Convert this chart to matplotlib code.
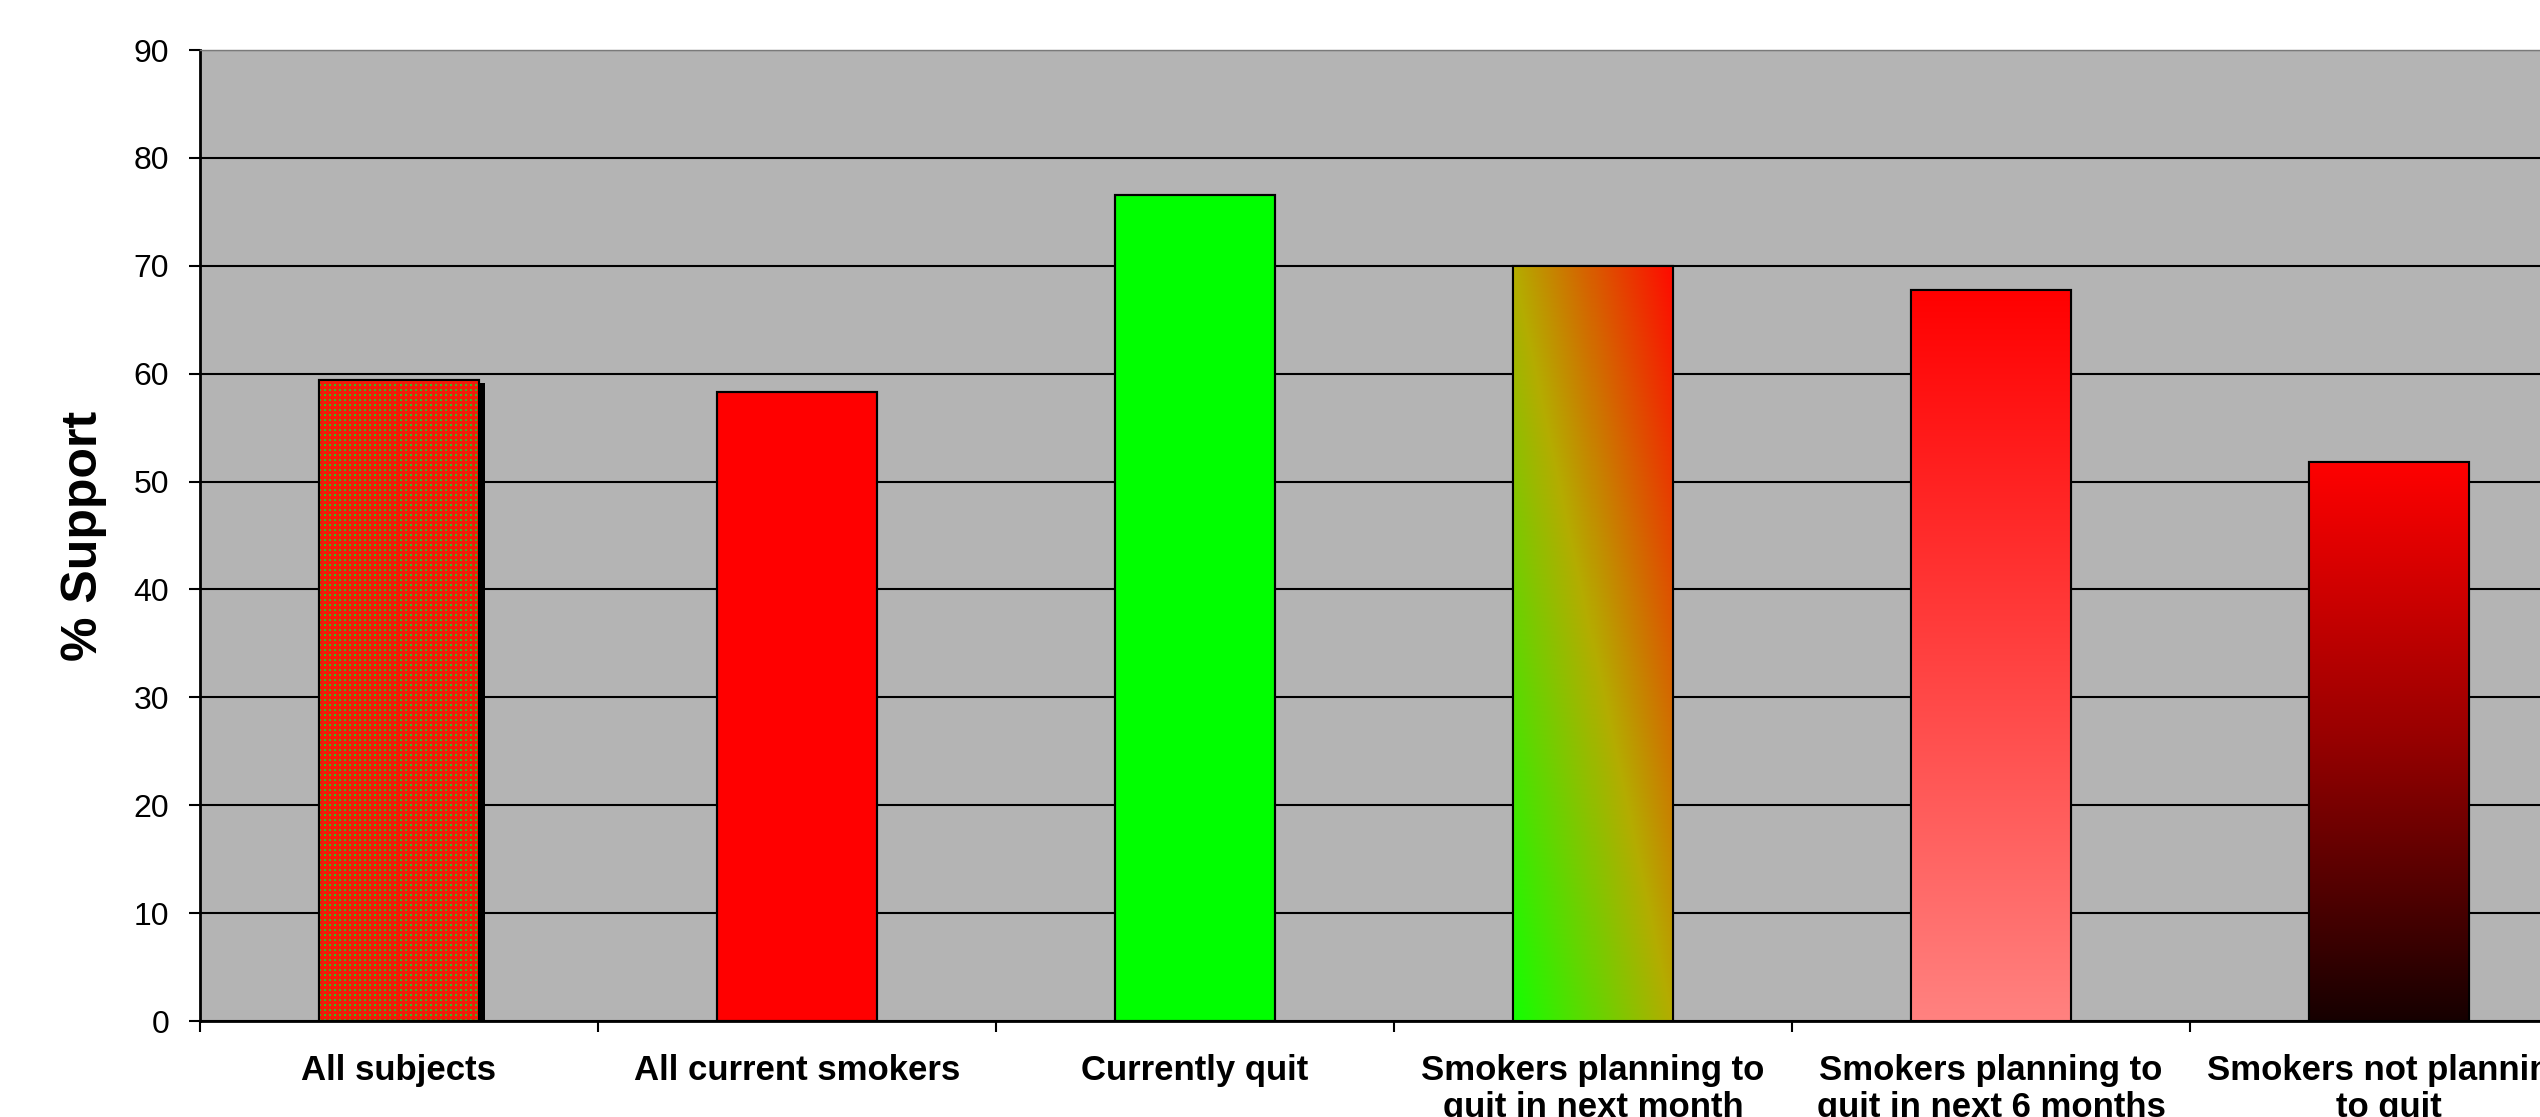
import numpy as np
import matplotlib
matplotlib.use('Agg')
import matplotlib.pyplot as plt
from matplotlib.patheffects import SimplePatchShadow, Normal

plt.rcParams['font.family'] = ['Liberation Sans', 'DejaVu Sans']

categories = ['All subjects', 'All current smokers', 'Currently quit',
              'Smokers planning to\nquit in next month',
              'Smokers planning to\nquit in next 6 months',
              'Smokers not planning\nto quit']
support = [59.4, 58.3, 76.6, 70.0, 67.8, 51.8]
y_ticks = [0, 10, 20, 30, 40, 50, 60, 70, 80, 90]

# fill for each bar: flat colour, dotted pattern or gradient
fills = ['dots', 'solid', 'solid', 'diagonal', 'fade_pink', 'fade_dark']
solid_colors = {1: '#ff0000', 2: '#00ff00'}

BAR_W = 0.4


def dotted_fill(rows, cols):
    r, c = np.indices((rows, cols))
    img = np.zeros((rows, cols, 3))
    img[:] = np.array([240, 28, 10]) / 255
    dots = (r % 5 < 2) & (c % 5 < 2)
    img[dots] = np.array([50, 190, 35]) / 255
    return img


def ramp(t, stops, colors):
    colors = np.array(colors) / 255
    return np.stack([np.interp(t, stops, colors[:, k]) for k in range(3)], axis=-1)


def gradient_fill(kind, rows, cols):
    yf = np.linspace(0, 1, rows)[:, None] * np.ones((1, cols))
    xf = np.ones((rows, 1)) * np.linspace(0, 1, cols)[None, :]
    if kind == 'diagonal':
        t = (xf + yf) / 2
        return ramp(t, [0, 0.5, 1], [(20, 255, 0), (180, 172, 0), (255, 10, 0)])
    if kind == 'fade_pink':
        return ramp(yf, [0, 1], [(255, 130, 128), (255, 0, 0)])
    return ramp(yf, [0, 0.5, 1], [(22, 0, 0), (150, 0, 0), (255, 0, 0)])


fig = plt.figure(figsize=(25.4, 11.17), dpi=100)
ax = fig.add_axes([0.0787, 0.0859, 0.9402, 0.8693])
ax.set_facecolor('#b4b4b4')

x = np.arange(len(categories))
for i, (xi, val) in enumerate(zip(x, support)):
    kind = fills[i]
    face = solid_colors.get(i, '#ff0000')
    bar = ax.bar(xi, val, width=BAR_W, color=face, edgecolor='black',
                 linewidth=1.5, zorder=2)[0]
    if kind == 'dots':
        bar.set_path_effects([SimplePatchShadow(offset=(4.5, -2.2), shadow_rgbFace='black',
                                                alpha=1.0), Normal()])
    if kind != 'solid':
        rows, cols = int(val * 10.8), 159
        img = dotted_fill(rows, cols) if kind == 'dots' else gradient_fill(kind, rows, cols)
        x0 = bar.get_x()
        im = ax.imshow(img, extent=(x0, x0 + bar.get_width(), 0, val), origin='lower',
                       aspect='auto', interpolation='nearest', zorder=2.5)
        im.set_clip_path(bar)
    # outline on top of the fill
    ax.bar(xi, val, width=BAR_W, fill=False, edgecolor='black', linewidth=1.5, zorder=3)

ax.set_xlim(-0.5, len(categories) - 0.5)
ax.set_ylim(0, 90)
ax.set_yticks(y_ticks)
ax.tick_params(axis='y', labelsize=23, length=8, width=1.5, pad=14, colors='black')
ax.yaxis.grid(True, color='black', linewidth=1.5)
ax.set_axisbelow(True)

ax.set_xticks(x)
ax.set_xticklabels(categories, fontsize=25, fontweight='bold', linespacing=1.15)
ax.set_xticks(np.arange(-0.5, len(categories)), minor=True)
ax.tick_params(axis='x', which='major', length=0, pad=24)
ax.tick_params(axis='x', which='minor', length=8, width=1.5)

for side in ['left', 'bottom']:
    ax.spines[side].set_linewidth(2)
ax.spines['top'].set_color('#7a7a7a')
ax.spines['top'].set_linewidth(1)
ax.spines['right'].set_color('#7a7a7a')

ax.set_ylabel('% Support', fontsize=36, fontweight='bold')
ax.yaxis.set_label_coords(-0.039, 0.5)

fig.savefig('out.png', dpi=100)
plt.close(fig)
